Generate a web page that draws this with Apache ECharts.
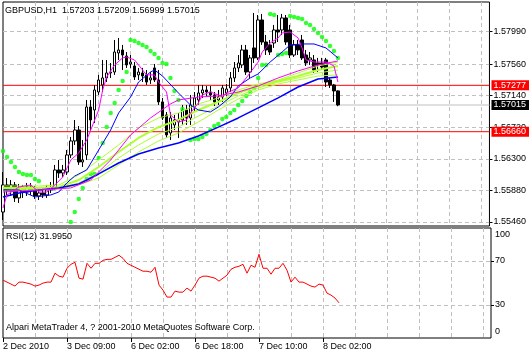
<!DOCTYPE html>
<html>
<head>
<meta charset="utf-8">
<script src="https://cdn.jsdelivr.net/npm/echarts@6/dist/echarts.min.js"></script>
<style>
    html, body { margin:0; padding:0; background:#fff; }
    #chart { width:529px; height:355px; }
</style>
</head>
<body>
<div id="chart"></div>
<script>
// GBPUSD H1 bars, [open, close, low, high]
var candles = [
    [1.55592, 1.55952, 1.55486, 1.56124], [1.55952, 1.55885, 1.55819, 1.56045], [1.55885, 1.55952, 1.55806, 1.56018],
    [1.55952, 1.55779, 1.55726, 1.55991], [1.55779, 1.55912, 1.55713, 1.55965], [1.55912, 1.55858, 1.55779, 1.55952],
    [1.55858, 1.55925, 1.55806, 1.55978], [1.55925, 1.55885, 1.55819, 1.55978], [1.55885, 1.55806, 1.55766, 1.55938],
    [1.55806, 1.55845, 1.55752, 1.55898], [1.55845, 1.55819, 1.55779, 1.55912], [1.55819, 1.55885, 1.55779, 1.55952],
    [1.55885, 1.55912, 1.55845, 1.55991], [1.55912, 1.56151, 1.55885, 1.56218], [1.56151, 1.56111, 1.56045, 1.56284],
    [1.56111, 1.56151, 1.56058, 1.56218], [1.56124, 1.56351, 1.56085, 1.56417], [1.56351, 1.56537, 1.56311, 1.56590],
    [1.56537, 1.56683, 1.56484, 1.56816], [1.56683, 1.56257, 1.56218, 1.56736], [1.56257, 1.56284, 1.56191, 1.56550],
    [1.56351, 1.56989, 1.56284, 1.57082], [1.56989, 1.56816, 1.56683, 1.57082], [1.56949, 1.57215, 1.56776, 1.57282],
    [1.57188, 1.57348, 1.57149, 1.57415], [1.57282, 1.57375, 1.57188, 1.57614], [1.57375, 1.57441, 1.57321, 1.57614],
    [1.57441, 1.57454, 1.57375, 1.57574], [1.57454, 1.57720, 1.57415, 1.57880], [1.57707, 1.57747, 1.57614, 1.57907],
    [1.57747, 1.57680, 1.57481, 1.57814], [1.57667, 1.57548, 1.57508, 1.57720], [1.57561, 1.57587, 1.57508, 1.57680],
    [1.57534, 1.57388, 1.57348, 1.57587], [1.57415, 1.57454, 1.57348, 1.57508], [1.57441, 1.57401, 1.57321, 1.57508],
    [1.57415, 1.57321, 1.57282, 1.57481], [1.57348, 1.57375, 1.57295, 1.57454], [1.57508, 1.57348, 1.57321, 1.57561],
    [1.57348, 1.57056, 1.57016, 1.57481], [1.57056, 1.56843, 1.56816, 1.57109], [1.56883, 1.56617, 1.56577, 1.56922],
    [1.56643, 1.56843, 1.56550, 1.56922], [1.56750, 1.56816, 1.56683, 1.56883], [1.56789, 1.56816, 1.56577, 1.56909],
    [1.56816, 1.56949, 1.56750, 1.57016], [1.56949, 1.56843, 1.56750, 1.57016], [1.56843, 1.57016, 1.56750, 1.57149],
    [1.56989, 1.57109, 1.56922, 1.57188], [1.57082, 1.57175, 1.57016, 1.57282], [1.57175, 1.57215, 1.57109, 1.57282],
    [1.57215, 1.57188, 1.57135, 1.57268], [1.57188, 1.57149, 1.57082, 1.57268], [1.57149, 1.57056, 1.57002, 1.57188],
    [1.57082, 1.57122, 1.57016, 1.57215], [1.57122, 1.57242, 1.57056, 1.57282], [1.57175, 1.57228, 1.57135, 1.57295],
    [1.57242, 1.57375, 1.57188, 1.57454], [1.57375, 1.57508, 1.57321, 1.57587], [1.57508, 1.57574, 1.57454, 1.57680],
    [1.57548, 1.57747, 1.57508, 1.57814], [1.57747, 1.57454, 1.57415, 1.57814], [1.57454, 1.57641, 1.57375, 1.57680],
    [1.57774, 1.57641, 1.57574, 1.58239], [1.57641, 1.58146, 1.57614, 1.58212], [1.58146, 1.57853, 1.57814, 1.58226],
    [1.57853, 1.57747, 1.57680, 1.57947], [1.57814, 1.57720, 1.57680, 1.57880], [1.57840, 1.58013, 1.57774, 1.58080],
    [1.58013, 1.57986, 1.57853, 1.58212], [1.58013, 1.58173, 1.57947, 1.58226], [1.58173, 1.57853, 1.57814, 1.58212],
    [1.58013, 1.57680, 1.57641, 1.58080], [1.57680, 1.57814, 1.57654, 1.57880], [1.57814, 1.57747, 1.57680, 1.57880],
    [1.57880, 1.57641, 1.57614, 1.57947], [1.57680, 1.57574, 1.57534, 1.57747], [1.57614, 1.57641, 1.57548, 1.57720],
    [1.57614, 1.57481, 1.57441, 1.57680], [1.57574, 1.57548, 1.57454, 1.57641], [1.57574, 1.57521, 1.57481, 1.57641],
    [1.57614, 1.57321, 1.57255, 1.57641], [1.57348, 1.57282, 1.57242, 1.57375], [1.57282, 1.57202, 1.57056, 1.57295],
    [1.57203, 1.57015, 1.56999, 1.57209]
];

// moving averages, [bar, price]
var maFast = [
    [0, 1.55646], [1, 1.55819], [4, 1.55925], [7, 1.55952], [9, 1.55858], [11, 1.55858], [13, 1.55952], [15, 1.56058],
    [17, 1.56284], [19, 1.56377], [21, 1.56550], [24, 1.56949], [25, 1.57215], [26, 1.57388], [28, 1.57548], [30, 1.57641],
    [31, 1.57654], [33, 1.57614], [35, 1.57481], [36, 1.57415], [38, 1.57415], [39, 1.57321], [41, 1.57188], [42, 1.56883],
    [44, 1.56789], [46, 1.56816], [47, 1.56909], [49, 1.57042], [50, 1.57149], [52, 1.57188], [54, 1.57149], [55, 1.57122],
    [56, 1.57175], [59, 1.57242], [61, 1.57375], [64, 1.57587], [65, 1.57720], [67, 1.57840], [69, 1.57907], [70, 1.57973],
    [72, 1.57986], [74, 1.57907], [75, 1.57774], [76, 1.57614], [78, 1.57587], [79, 1.57587], [81, 1.57587], [83, 1.57534],
    [84, 1.57321]
];
var maSlowPink = [
    [0, 1.55858], [9, 1.55885], [17, 1.55912], [22, 1.56018], [27, 1.56284], [32, 1.56617], [37, 1.56843], [42, 1.57029],
    [44, 1.57082], [49, 1.57122], [54, 1.57135], [59, 1.57188], [64, 1.57268], [69, 1.57375], [74, 1.57468], [79, 1.57548],
    [84, 1.57601]
];
var maBlue = [
    [0, 1.55885], [4, 1.55885], [8, 1.55792], [12, 1.55819], [14, 1.55858], [16, 1.55978], [18, 1.56071], [21, 1.56151],
    [24, 1.56417], [27, 1.56683], [29, 1.56909], [32, 1.57122], [34, 1.57321], [37, 1.57454], [38, 1.57481], [40, 1.57401],
    [44, 1.57175], [47, 1.57016], [49, 1.56949], [52, 1.56922], [54, 1.56989], [57, 1.57122], [59, 1.57268], [62, 1.57375],
    [64, 1.57428], [67, 1.57587], [70, 1.57720], [72, 1.57814], [75, 1.57827], [78, 1.57827], [81, 1.57774], [84, 1.57641]
];
var maBlueSlow = [
    [0, 1.55792], [4, 1.55845], [9, 1.55885], [14, 1.55912], [19, 1.55965], [24, 1.56098], [29, 1.56244], [34, 1.56364],
    [39, 1.56444], [44, 1.56510], [49, 1.56603], [54, 1.56721], [59, 1.56843], [64, 1.56976], [69, 1.57109], [74, 1.57255],
    [79, 1.57361], [84, 1.57388]
];
var greenBars = [0, 9, 14, 19, 24, 29, 34, 39, 44, 49, 54, 59, 64, 69, 74, 79, 84];
var green1 = [1.55938, 1.55938, 1.55952, 1.56085, 1.56284, 1.56484, 1.56710, 1.56843, 1.56909, 1.57029, 1.57109, 1.57215, 1.57295, 1.57348, 1.57441, 1.57534, 1.57587];
var green2 = [1.55912, 1.55912, 1.55925, 1.56018, 1.56191, 1.56390, 1.56577, 1.56721, 1.56816, 1.56949, 1.57056, 1.57175, 1.57268, 1.57335, 1.57401, 1.57481, 1.57534];
var green3 = [1.55885, 1.55898, 1.55912, 1.55978, 1.56111, 1.56311, 1.56484, 1.56630, 1.56721, 1.56869, 1.57002, 1.57135, 1.57242, 1.57321, 1.57375, 1.57441, 1.57481];
var green4 = [1.55872, 1.55885, 1.55898, 1.55952, 1.56045, 1.56218, 1.56390, 1.56537, 1.56643, 1.56789, 1.56949, 1.57095, 1.57215, 1.57295, 1.57348, 1.57401, 1.57415];

// parabolic SAR dots, [bar, price]
var sar = [
    [0, 1.56404], [1, 1.56324], [2, 1.56257], [3, 1.56191], [4, 1.56124], [5, 1.56098], [6, 1.56085], [7, 1.56085],
    [8, 1.56031], [9, 1.56005],
    [17, 1.55459], [18, 1.55592], [19, 1.55766], [20, 1.55912], [21, 1.56031], [22, 1.56098], [23, 1.56098], [24, 1.56311],
    [25, 1.56510], [26, 1.56721], [27, 1.56909], [28, 1.57042], [29, 1.57215], [30, 1.57335], [31, 1.57454],
    [32, 1.57880], [33, 1.57867], [34, 1.57840], [35, 1.57814], [36, 1.57787], [37, 1.57734], [38, 1.57694], [39, 1.57641],
    [40, 1.57574], [41, 1.57561], [42, 1.57375], [43, 1.57202], [44, 1.57082], [45, 1.56962],
    [47, 1.56550], [48, 1.56563], [49, 1.56563], [50, 1.56590], [51, 1.56630], [52, 1.56683], [53, 1.56736], [54, 1.56763],
    [55, 1.56829], [56, 1.56856], [57, 1.56909], [58, 1.56949], [59, 1.57016], [60, 1.57069], [61, 1.57135], [62, 1.57188],
    [63, 1.57242], [64, 1.57375], [65, 1.57548], [66, 1.57548],
    [67, 1.58226], [68, 1.58212],
    [69, 1.57680], [70, 1.57694], [71, 1.57707],
    [72, 1.58199], [73, 1.58186], [74, 1.58173], [75, 1.58159], [76, 1.58106], [77, 1.58080], [78, 1.58026], [79, 1.57973],
    [80, 1.57920], [81, 1.57867], [82, 1.57800], [83, 1.57734], [84, 1.57641]
];

var rsi = [
    52.6, 50.8, 49.0, 47.2, 50.8, 50.8, 49.9, 49.0, 47.2, 48.1, 49.9, 50.8, 50.8, 58.9, 56.2, 55.3, 63.4, 67.0, 68.8, 54.4,
    53.5, 67.9, 63.4, 67.9, 67.9, 70.6, 71.5, 71.5, 73.3, 75.2, 72.4, 67.9, 66.1, 64.3, 62.5, 60.7, 60.7, 59.8, 64.3, 48.1,
    43.5, 37.2, 37.2, 42.6, 41.7, 41.7, 45.4, 42.6, 48.1, 54.4, 56.2, 56.2, 55.3, 54.4, 51.7, 54.4, 57.1, 62.5, 64.3, 65.2,
    67.0, 58.9, 66.1, 64.3, 76.1, 63.4, 63.4, 58.0, 63.4, 63.4, 67.9, 61.6, 50.8, 55.3, 50.8, 50.8, 49.0, 47.2, 46.3, 49.0,
    48.1, 40.8, 39.0, 36.3, 31.995
];

var priceTicks = [1.5546, 1.5588, 1.5630, 1.5672, 1.5714, 1.5756, 1.5799];
var rsiTicks = [0, 30, 70, 100];
var levelLines = [1.57277, 1.56660];
var bidPrice = 1.57015;
var timeLabels = ['2 Dec 2010', '3 Dec 09:00', '6 Dec 02:00', '6 Dec 18:00', '7 Dec 10:00', '8 Dec 02:00'];
var timeLabelBars = [0, 16, 32, 48, 64, 80];

var slotCount = 123; // bars plus the empty shift on the right
var slots = [];
for (var i = 0; i < slotCount; i++) slots.push(String(i));

function zip(bars, vals) {
    return bars.map(function (b, k) { return [b, vals[k]]; });
}

var FONT = 'Liberation Sans';
var GRID_DASH = { color: '#c0c0c0', type: [4, 3], width: 1 };
var last = candles[candles.length - 1];

// horizontal price line across the whole pane, with its value boxed on the axis
function priceLine(value, lineColor, boxColor) {
    return {
        type: 'line', xAxisIndex: 0, yAxisIndex: 0, z: 1,
        data: [[0, value], [slotCount - 1, value]],
        showSymbol: false, silent: true,
        lineStyle: { color: lineColor, width: 1 },
        endLabel: {
            show: true, distance: 2,
            formatter: function () { return value.toFixed(5); },
            color: '#fff', backgroundColor: boxColor,
            fontSize: 9, fontFamily: FONT, padding: [1, 3, 0, 2]
        }
    };
}

var chart = echarts.init(document.getElementById('chart'));

var xAxisBase = {
    type: 'category',
    data: slots,
    boundaryGap: false,
    axisLine: { show: false },
    splitLine: {
        show: true,
        interval: function (idx) { return idx % 8 === 0 && idx > 0; },
        lineStyle: GRID_DASH
    }
};

var option = {
    animation: false,
    backgroundColor: '#fff',
    textStyle: { fontFamily: FONT },
    grid: [
        { left: 3, top: 2, width: 488, height: 224, show: true, borderColor: '#000', borderWidth: 1, backgroundColor: '#fff' },
        { left: 3, top: 228, width: 488, height: 110, show: true, borderColor: '#000', borderWidth: 1, backgroundColor: '#fff' }
    ],
    xAxis: [
        Object.assign({}, xAxisBase, {
            gridIndex: 0,
            axisTick: { show: false },
            axisLabel: { show: false }
        }),
        Object.assign({}, xAxisBase, {
            gridIndex: 1,
            axisTick: {
                show: true, length: 4, lineStyle: { color: '#000' },
                interval: function (idx) { return timeLabelBars.indexOf(idx) >= 0; }
            },
            axisLabel: {
                show: true,
                interval: function (idx) { return timeLabelBars.indexOf(idx) >= 0; },
                formatter: function (v, idx) {
                    var k = timeLabelBars.indexOf(idx);
                    return k >= 0 ? timeLabels[k] : '';
                },
                align: 'left', margin: 4, color: '#000', fontSize: 9, fontFamily: FONT
            }
        })
    ],
    yAxis: [
        {
            type: 'value', gridIndex: 0, position: 'right',
            min: 1.55406, max: 1.58385,
            axisLine: { show: false },
            axisTick: { show: true, length: 3, lineStyle: { color: '#000' }, customValues: priceTicks },
            axisLabel: {
                customValues: priceTicks, margin: 4, color: '#000', fontSize: 9, fontFamily: FONT,
                formatter: function (v) { return v.toFixed(5); }
            },
            splitLine: { show: true, lineStyle: GRID_DASH }
        },
        {
            type: 'value', gridIndex: 1, position: 'right',
            min: 0, max: 100,
            axisLine: { show: false },
            axisTick: { show: true, length: 3, lineStyle: { color: '#000' }, customValues: [30, 70] },
            axisLabel: {
                customValues: rsiTicks, margin: 4, color: '#000', fontSize: 9, fontFamily: FONT,
                formatter: function (v) {
                    if (v === 100) return '{top|100}';
                    if (v === 0) return '{bot|0}';
                    return String(v);
                },
                rich: {
                    top: { fontSize: 9, fontFamily: FONT, color: '#000', padding: [14, 0, 0, 0] },
                    bot: { fontSize: 9, fontFamily: FONT, color: '#000', padding: [0, 0, 12, 0] }
                }
            },
            splitLine: { show: true, lineStyle: GRID_DASH }
        }
    ],
    graphic: [
        { type: 'text', left: 5, top: 6, z: 100,
          style: { text: 'GBPUSD,H1  ' + [last[0], last[3], last[2], last[1]].map(function (v) { return v.toFixed(5); }).join(' '),
                   font: '9px ' + FONT, fill: '#000' } },
        { type: 'text', left: 6, top: 232, z: 100,
          style: { text: 'RSI(12) ' + rsi[rsi.length - 1].toFixed(4), font: '9px ' + FONT, fill: '#000' } },
        { type: 'text', left: 6, top: 323, z: 100,
          style: { text: 'Alpari MetaTrader 4, ? 2001-2010 MetaQuotes Software Corp.', font: '9px ' + FONT, fill: '#000' } }
    ],
    series: [
        priceLine(levelLines[0], '#ff0000', '#ff0000'),
        priceLine(levelLines[1], '#ff0000', '#ff0000'),
        priceLine(bidPrice, '#c0c0c0', '#000000'),
        {
            type: 'candlestick', xAxisIndex: 0, yAxisIndex: 0,
            data: candles,
            barWidth: 3,
            itemStyle: { color: '#fff', color0: '#000', borderColor: '#000', borderColor0: '#000', borderWidth: 1 }
        },
        { type: 'line', data: zip(greenBars, green4), showSymbol: false, lineStyle: { color: '#adff2f', width: 1 } },
        { type: 'line', data: zip(greenBars, green3), showSymbol: false, lineStyle: { color: '#adff2f', width: 1 } },
        { type: 'line', data: zip(greenBars, green2), showSymbol: false, lineStyle: { color: '#adff2f', width: 2 } },
        { type: 'line', data: zip(greenBars, green1), showSymbol: false, lineStyle: { color: '#adff2f', width: 1 } },
        { type: 'line', data: maBlueSlow, showSymbol: false, lineStyle: { color: '#0000ff', width: 1.5 } },
        { type: 'line', data: maBlue, showSymbol: false, lineStyle: { color: '#0000ff', width: 1 } },
        { type: 'line', data: maSlowPink, showSymbol: false, lineStyle: { color: '#ff00ff', width: 1 } },
        { type: 'line', data: maFast, showSymbol: false, lineStyle: { color: '#ff00ff', width: 1 } },
        { type: 'scatter', data: sar, symbol: 'circle', symbolSize: 4.5, itemStyle: { color: '#00ff00' } },
        {
            type: 'line', xAxisIndex: 1, yAxisIndex: 1, data: rsi, showSymbol: false,
            lineStyle: { color: '#ff0000', width: 1 }
        }
    ]
};

chart.setOption(option);
</script>
</body>
</html>
